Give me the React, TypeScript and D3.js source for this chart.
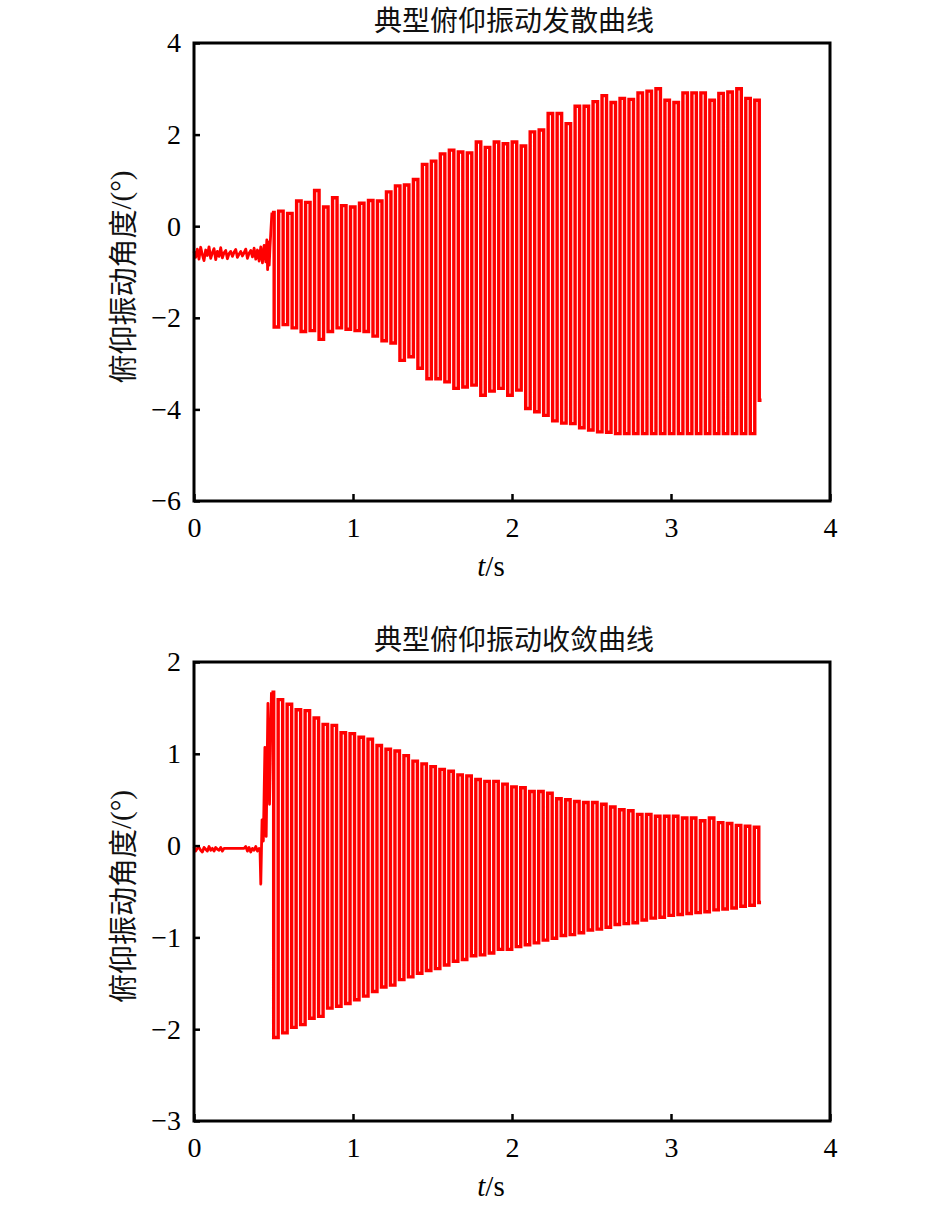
import * as d3 from "d3";
import React, { useEffect, useRef } from "react";

const W = 945;
const H = 1206;

const X_TICKS = [0, 1, 2, 3, 4];
const TOP_Y_TICKS = [-6, -4, -2, 0, 2, 4];
const BOTTOM_Y_TICKS = [-3, -2, -1, 0, 1, 2];

// sampling of the quiet part before the excitation, and the oscillation period (s)
const NOISE_DT = 0.0105;
const PERIOD = 0.0565;

// ---- 典型俯仰振动发散曲线 ----
const TOP_NOISE = [
  -0.55, -0.68, -0.5, -0.72, -0.46, -0.62, -0.75, -0.52, -0.64, -0.45, -0.7,
  -0.58, -0.49, -0.73, -0.55, -0.66, -0.47, -0.69, -0.58, -0.53, -0.71, -0.6,
  -0.55, -0.66, -0.57, -0.51, -0.68, -0.61, -0.55, -0.65, -0.58, -0.5, -0.7,
  -0.59, -0.53, -0.67, -0.48, -0.72, -0.52, -0.76, -0.45, -0.8, -0.42, -0.78,
];
const TOP_LEAD: [number, number][] = [
  [0.458, -0.3], [0.463, -0.95], [0.468, -0.35], [0.473, -0.85], [0.478, -0.45],
];
const TOP_T0 = 0.49;
const TOP_MAX = [
  0.3, 0.33, 0.28, 0.55, 0.52, 0.78, 0.42, 0.62, 0.45, 0.42, 0.5, 0.56, 0.55,
  0.75, 0.88, 0.9, 1.02, 1.35, 1.42, 1.58, 1.66, 1.62, 1.6, 1.84, 1.72, 1.84,
  1.8, 1.84, 1.75, 2.06, 2.1, 2.46, 2.46, 2.24, 2.62, 2.62, 2.72, 2.85, 2.7,
  2.79, 2.77, 2.91, 2.95, 3.0, 2.75, 2.7, 2.91, 2.91, 2.91, 2.75, 2.9, 2.93,
  3.0, 2.79, 2.75,
];
const TOP_MIN = [
  -2.2, -2.15, -2.22, -2.3, -2.28, -2.47, -2.3, -2.22, -2.25, -2.28, -2.3,
  -2.4, -2.5, -2.55, -2.93, -2.85, -3.1, -3.33, -3.33, -3.4, -3.54, -3.51,
  -3.47, -3.69, -3.6, -3.54, -3.69, -3.58, -3.98, -4.05, -4.13, -4.25, -4.3,
  -4.31, -4.4, -4.45, -4.49, -4.5, -4.53, -4.53, -4.53, -4.53, -4.53, -4.53,
  -4.53, -4.53, -4.53, -4.53, -4.53, -4.53, -4.53, -4.53, -4.53, -4.53, -3.8,
];

// ---- 典型俯仰振动收敛曲线 ----
const BOTTOM_NOISE = [
  -0.01, -0.06, -0.03, -0.02, -0.05, -0.07, -0.02, -0.04, -0.06, -0.01, -0.05,
  -0.03, -0.06, -0.02, -0.04, -0.05, -0.02, -0.06, -0.03, -0.03, -0.03, -0.03,
  -0.03, -0.03, -0.03, -0.03, -0.03, -0.03, -0.03, -0.03, -0.03, -0.01, -0.06,
  -0.02, -0.07, -0.03, -0.05, -0.01, -0.06, -0.03,
];
const BOTTOM_LEAD: [number, number][] = [
  [0.415, -0.04], [0.42, -0.42], [0.428, 0.28], [0.436, 0.05], [0.446, 1.07],
  [0.454, 0.1], [0.465, 1.55], [0.475, 0.45],
];
const BOTTOM_T0 = 0.487;
const BOTTOM_MAX = [
  1.67, 1.59, 1.54, 1.48, 1.47, 1.39, 1.32, 1.31, 1.23, 1.22, 1.18, 1.16, 1.09,
  1.05, 1.03, 0.98, 0.92, 0.89, 0.86, 0.83, 0.81, 0.77, 0.76, 0.72, 0.7, 0.7,
  0.67, 0.64, 0.63, 0.59, 0.59, 0.57, 0.51, 0.5, 0.48, 0.47, 0.47, 0.45, 0.42,
  0.39, 0.38, 0.34, 0.34, 0.32, 0.32, 0.32, 0.3, 0.3, 0.27, 0.3, 0.25, 0.24,
  0.22, 0.21, 0.2,
];
const BOTTOM_MIN = [
  -2.09, -2.04, -1.98, -1.95, -1.88, -1.86, -1.77, -1.75, -1.72, -1.68, -1.64,
  -1.59, -1.54, -1.52, -1.46, -1.43, -1.39, -1.36, -1.34, -1.3, -1.26, -1.24,
  -1.2, -1.19, -1.17, -1.13, -1.13, -1.1, -1.08, -1.06, -1.03, -1.01, -0.98,
  -0.97, -0.95, -0.92, -0.91, -0.89, -0.86, -0.85, -0.84, -0.81, -0.79, -0.78,
  -0.76, -0.75, -0.74, -0.73, -0.72, -0.7, -0.69, -0.68, -0.66, -0.65, -0.62,
];

type PanelCfg = {
  title: string;
  top: number;
  bottom: number;
  yDomain: [number, number];
  yTicks: number[];
  noise: number[];
  lead: [number, number][];
  t0: number;
  maxima: number[];
  minima: number[];
};

const PANELS: PanelCfg[] = [
  {
    title: "典型俯仰振动发散曲线",
    top: 43, bottom: 501,
    yDomain: [-6, 4], yTicks: TOP_Y_TICKS,
    noise: TOP_NOISE, lead: TOP_LEAD, t0: TOP_T0, maxima: TOP_MAX, minima: TOP_MIN,
  },
  {
    title: "典型俯仰振动收敛曲线",
    top: 662, bottom: 1121,
    yDomain: [-3, 2], yTicks: BOTTOM_Y_TICKS,
    noise: BOTTOM_NOISE, lead: BOTTOM_LEAD, t0: BOTTOM_T0, maxima: BOTTOM_MAX, minima: BOTTOM_MIN,
  },
];

const LEFT = 194;
const RIGHT = 830;
const SERIF = "'Liberation Serif', 'Times New Roman', serif";
const CJK = "'Noto Sans CJK SC', sans-serif";

function quiet(p: PanelCfg): [number, number][] {
  const pts: [number, number][] = p.noise.map((v, i) => [i * NOISE_DT, v]);
  p.lead.forEach(d => pts.push(d));
  return pts;
}

function swings(p: PanelCfg): [number, number][] {
  const pts: [number, number][] = [];
  p.maxima.forEach((v, i) => {
    pts.push([p.t0 + i * PERIOD, v]);
    pts.push([p.t0 + (i + 0.5) * PERIOD, p.minima[i]]);
  });
  return pts;
}

const fmt = (d: number) => (d < 0 ? `\u2212${Math.abs(d)}` : `${d}`);

export default function App() {
  const svgRef = useRef<SVGSVGElement | null>(null);

  useEffect(() => {
    const svg = d3.select(svgRef.current);
    svg.selectAll("*").remove();

    PANELS.forEach(p => {
      const x = d3.scaleLinear().domain([0, 4]).range([LEFT, RIGHT]);
      const y = d3.scaleLinear().domain(p.yDomain).range([p.bottom, p.top]);
      const g = svg.append("g");

      // signal: jittery lead-in, then the held samples of the oscillation
      const lead = quiet(p);
      const osc = swings(p);
      const linear = d3.line<[number, number]>().x(d => x(d[0])).y(d => y(d[1]));
      const stepped = d3.line<[number, number]>().x(d => x(d[0])).y(d => y(d[1])).curve(d3.curveStep);
      g.append("path")
        .datum([...lead, osc[0]])
        .attr("d", linear)
        .attr("fill", "none")
        .attr("stroke", "#ff0000")
        .attr("stroke-width", 2.8)
        .attr("stroke-linejoin", "round");
      g.append("path")
        .datum(osc)
        .attr("d", stepped)
        .attr("fill", "none")
        .attr("stroke", "#ff0000")
        .attr("stroke-width", 3.4)
        .attr("stroke-linejoin", "miter");

      // axes, ticks pointing inward
      const xAxis = g.append("g")
        .attr("transform", `translate(0,${p.bottom})`)
        .call(d3.axisBottom(x).tickValues(X_TICKS).tickSize(-7).tickPadding(16).tickFormat(d => fmt(+d)));
      const yAxis = g.append("g")
        .attr("transform", `translate(${LEFT},0)`)
        .call(d3.axisLeft(y).tickValues(p.yTicks).tickSize(-6).tickPadding(13).tickFormat(d => fmt(+d)));
      [xAxis, yAxis].forEach(a => {
        a.select(".domain").remove();
        a.selectAll(".tick line").attr("stroke", "#000").attr("stroke-width", 2.5);
        a.selectAll(".tick text")
          .attr("fill", "#000")
          .style("font-family", SERIF)
          .style("font-size", "28px");
      });

      // frame
      g.append("rect")
        .attr("x", LEFT).attr("y", p.top)
        .attr("width", RIGHT - LEFT).attr("height", p.bottom - p.top)
        .attr("fill", "none")
        .attr("stroke", "#000")
        .attr("stroke-width", 3);

      // title
      g.append("text")
        .attr("x", 514).attr("y", p.top - 12)
        .attr("text-anchor", "middle")
        .style("font-family", CJK)
        .style("font-size", "28px")
        .attr("fill", "#111")
        .text(p.title);

      // x label
      const xl = g.append("text")
        .attr("x", 491).attr("y", p.bottom + 75)
        .attr("text-anchor", "middle")
        .style("font-family", SERIF)
        .style("font-size", "29px")
        .attr("fill", "#000");
      xl.append("tspan").style("font-style", "italic").text("t");
      xl.append("tspan").text("/s");

      // y label
      const yl = g.append("text")
        .attr("transform", `translate(121,${(p.top + p.bottom) / 2 + 5}) rotate(-90)`)
        .attr("text-anchor", "middle")
        .attr("dominant-baseline", "central")
        .attr("fill", "#111")
        .style("font-size", "29px");
      yl.append("tspan").style("font-family", CJK).text("俯仰振动角度");
      yl.append("tspan").style("font-family", SERIF).text("/(°)");
    });
  }, []);

  return (
    <div style={{ position: "absolute", left: 0, top: 0, width: W, height: H, background: "#fff" }}>
      <svg ref={svgRef} width={W} height={H} />
    </div>
  );
}
